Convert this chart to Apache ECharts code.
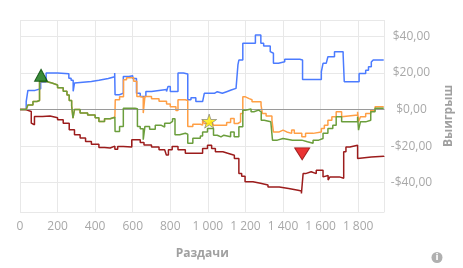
<!DOCTYPE html>
<html><head><meta charset="utf-8">
<script src="https://cdn.jsdelivr.net/npm/echarts@6/dist/echarts.min.js"></script>
<style>html,body{margin:0;padding:0;background:#fff}#c{width:463px;height:268px}</style>
</head><body><div id="c"></div>
<script>
const xTitle = 'Раздачи';
const yTitle = 'Выигрыш';
const xMin = 0, xMax = 1940, xStep = 200;
const yMin = -56, yMax = 49;

const blue = [[0,0],[33,4.4],[42,10.5],[80,11.4],[110,15],[139,20],[200,19.6],[260,17.2],[272,16],[283,10],[290,14.5],[300,15.4],[380,16],[420,17],[470,18],[504,20],[506,8.1],[530,9],[550,18.1],[580,18.5],[600,17],[620,9],[640,7.2],[670,9.9],[700,10.5],[740,11],[780,9.9],[788,12.7],[800,9.9],[841,20],[870,19.5],[893,5.4],[910,6.5],[936,4.4],[972,5.2],[981,8.9],[1035,9.8],[1050,8.9],[1077,9.8],[1100,10.7],[1124,11.6],[1150,12.5],[1160,24.4],[1165,27.1],[1186,36.3],[1253,40.8],[1282,36.3],[1297,34.8],[1332,31.7],[1340,30.8],[1349,25.3],[1376,26.2],[1409,27.5],[1489,27.1],[1504,16.5],[1604,20.7],[1613,25.3],[1630,26],[1639,28.9],[1674,31.7],[1709,31.7],[1720,30],[1726,15.2],[1805,19.8],[1840,21.5],[1855,23.5],[1870,26],[1880,27.1],[1936,27.1]];

const orange = [[0,0],[33,1],[42,2.5],[69,4.4],[90,5],[104,15.4],[140,14.5],[170,13.5],[200,12],[230,10],[250,8],[262,5],[275,2],[282,-4.7],[290,0],[320,-1.8],[360,-3],[400,-4.5],[420,-6.5],[450,-5],[480,-4.2],[505,-5],[507,5.4],[530,7],[551,16.3],[567,17.4],[605,15.5],[622,7.2],[640,6.8],[656,-1.9],[665,7.2],[700,6],[740,4.5],[780,3],[800,1.5],[830,-0.5],[841,5.4],[880,5],[893,-9.2],[920,-8],[960,-8.5],[972,-5.8],[981,-7.6],[1010,-7.6],[1020,-6.5],[1030,-8.5],[1100,-7],[1121,-4.8],[1140,-7.6],[1160,-6.7],[1174,-2.1],[1186,7],[1200,6],[1220,5.4],[1235,4.3],[1283,2.5],[1290,-2.1],[1310,-3.5],[1341,-5.8],[1349,-12.2],[1380,-11.2],[1400,-12.2],[1420,-13],[1446,-11.2],[1460,-13],[1500,-14.9],[1520,-13],[1560,-12.2],[1604,-10.3],[1620,-8.5],[1639,-5.8],[1660,-3.9],[1683,-1.2],[1712,-3.9],[1720,-3],[1797,-1.2],[1802,-6.7],[1812,-3.9],[1840,-2.1],[1867,-0.3],[1890,1.5],[1936,1.8]];

const green = [[0,0],[33,1],[42,2.5],[69,4.4],[90,5],[104,15.4],[140,14.5],[170,13.5],[200,12],[230,10],[250,8],[262,5],[275,2],[282,-4.7],[290,0],[320,-1.8],[360,-3],[400,-4.5],[420,-6.5],[450,-5],[480,-4.2],[505,-5],[506,-12],[530,-9.2],[550,0.8],[612,0.5],[625,-9.2],[640,-10.5],[656,-16.5],[665,-9.2],[690,-10.8],[720,-8.5],[750,-9.5],[770,-7.5],[797,-6.5],[812,-5],[825,-13.8],[850,-12.9],[880,-13.5],[893,-18.4],[920,-15.6],[960,-14.5],[972,-12.2],[998,-10.3],[1030,-14],[1050,-14.9],[1070,-14],[1085,-14.9],[1121,-12.2],[1140,-14.9],[1165,-9.4],[1186,-0.3],[1200,0.3],[1230,-1.2],[1245,-0.3],[1270,-1.2],[1284,-5.8],[1300,-6.7],[1335,-7.6],[1344,-16.7],[1370,-15.8],[1400,-16.7],[1450,-15.8],[1460,-16.7],[1500,-17.6],[1530,-18.4],[1560,-16.7],[1590,-15.8],[1613,-13],[1639,-10.3],[1665,-8.5],[1683,-3.9],[1712,-6.7],[1797,-3.9],[1802,-11.2],[1812,-6.7],[1840,-5.8],[1867,-1.2],[1890,0.7],[1936,1]];

const red = [[0,0],[30,-1],[60,-7.4],[70,-8.3],[77,-3.8],[120,-3.5],[160,-4.5],[200,-5.6],[230,-7.4],[262,-11],[290,-13.8],[320,-15.5],[349,-17.5],[380,-19],[420,-20.7],[450,-21],[480,-20],[505,-21.7],[520,-20.2],[550,-20.5],[595,-16.5],[624,-16.5],[640,-18],[660,-19.3],[700,-20.5],[740,-22],[770,-23],[779,-24.8],[790,-22],[810,-20.2],[841,-22],[880,-23.9],[950,-23.9],[972,-21.3],[998,-19.5],[1020,-21.3],[1040,-23.1],[1080,-24],[1110,-25],[1141,-26.7],[1165,-35],[1180,-36.5],[1198,-39.5],[1240,-40.3],[1280,-41.2],[1320,-42.3],[1380,-43.2],[1430,-44.1],[1480,-44.5],[1498,-45.9],[1507,-35],[1520,-34],[1550,-35],[1577,-33.2],[1613,-36.8],[1620,-36],[1640,-38.5],[1650,-36.8],[1700,-37.5],[1723,-23.1],[1735,-20.4],[1756,-19.5],[1797,-26.7],[1805,-25.9],[1870,-25.5],[1936,-25.9]];

const upMark = [[112, 18.8]];
const starMark = [[1007, -6.3]];
const downMark = [[1502, -24.2]];

const font = 'Open Sans';
const grid = '#e8e8e8';
const lbl = '#a8a8a8';

function money(v){
  if (Math.abs(v) % 20 !== 0) return '';
  const s = Math.abs(v).toFixed(2).replace('.', ',');
  return (v < 0 ? '-$' : '$') + s;
}
function thou(v){
  if (v % xStep !== 0) return '';
  return String(v).replace(/\B(?=(\d{3})+(?!\d))/g, ' ');
}

const lineS = (data, color, z) => ({
  type: 'line', data, step: 'end', showSymbol: false, symbol: 'none', z,
  lineStyle: { color, width: 1.5 }, itemStyle: { color }, animation: false
});

const chart = echarts.init(document.getElementById('c'), null, { renderer: 'canvas' });
chart.setOption({
  animation: false,
  grid: { left: 20, right: 74, top: 20, bottom: 56 },
  xAxis: {
    type: 'value', min: xMin, max: xMax, interval: xStep,
    name: xTitle, nameLocation: 'middle', nameGap: 36,
    nameTextStyle: { color: '#a0a0a0', fontFamily: font, fontSize: 12, fontWeight: 'bold' },
    axisLine: { show: true, lineStyle: { color: grid } },
    axisTick: { show: true, length: 5, lineStyle: { color: grid } },
    axisLabel: { color: lbl, fontFamily: font, fontSize: 12, margin: 9, formatter: thou, showMaxLabel: false },
    splitLine: { show: true, lineStyle: { color: grid } }
  },
  yAxis: {
    type: 'value', position: 'right', min: yMin, max: yMax,
    name: yTitle, nameLocation: 'middle', nameGap: 53, nameRotate: 90,
    nameTextStyle: { color: '#a0a0a0', fontFamily: font, fontSize: 12, fontWeight: 'bold' },
    axisLine: { show: false },
    axisTick: { show: true, length: 6, lineStyle: { color: grid } },
    axisLabel: { color: lbl, fontFamily: font, fontSize: 12, margin: 27, align: 'center', formatter: money, showMinLabel: false, showMaxLabel: false },
    splitLine: { show: true, lineStyle: { color: grid } }
  },
  series: [
    Object.assign(lineS(blue, '#4b7bff', 3), {
      markLine: { silent: true, symbol: 'none', label: { show: false },
        lineStyle: { color: '#9a9a9a', width: 1, type: 'solid' }, data: [{ yAxis: 0 }] }
    }),
    lineS(red, '#9c1c1c', 3),
    lineS(orange, '#ff9f45', 4),
    lineS(green, '#6b9e3c', 5),
    { type: 'scatter', data: upMark, symbol: 'triangle', symbolSize: [13, 12], z: 10,
      itemStyle: { color: '#0a6e0a', borderColor: '#044a04', borderWidth: 1 } },
    { type: 'scatter', data: starMark, symbol: 'path://M50,0 L61,35 L98,35 L68,57 L79,91 L50,70 L21,91 L32,57 L2,35 L39,35 Z', symbolSize: [15, 14], z: 10,
      itemStyle: { color: '#ffee00', borderColor: '#777', borderWidth: 0.8 } },
    { type: 'scatter', data: downMark, symbol: 'triangle', symbolRotate: 180, symbolSize: [15, 12], z: 10,
      itemStyle: { color: '#e50000', borderColor: '#8a0000', borderWidth: 1 } }
  ],
  graphic: [
    { type: 'circle', shape: { cx: 437, cy: 257.5, r: 5.5 }, style: { fill: '#b0b0b0' } },
    { type: 'text', x: 437, y: 257.5, style: { text: 'i', fill: '#fff', font: 'bold 9px "DejaVu Sans"', textAlign: 'center', textVerticalAlign: 'middle' } }
  ]
});
</script></body></html>
